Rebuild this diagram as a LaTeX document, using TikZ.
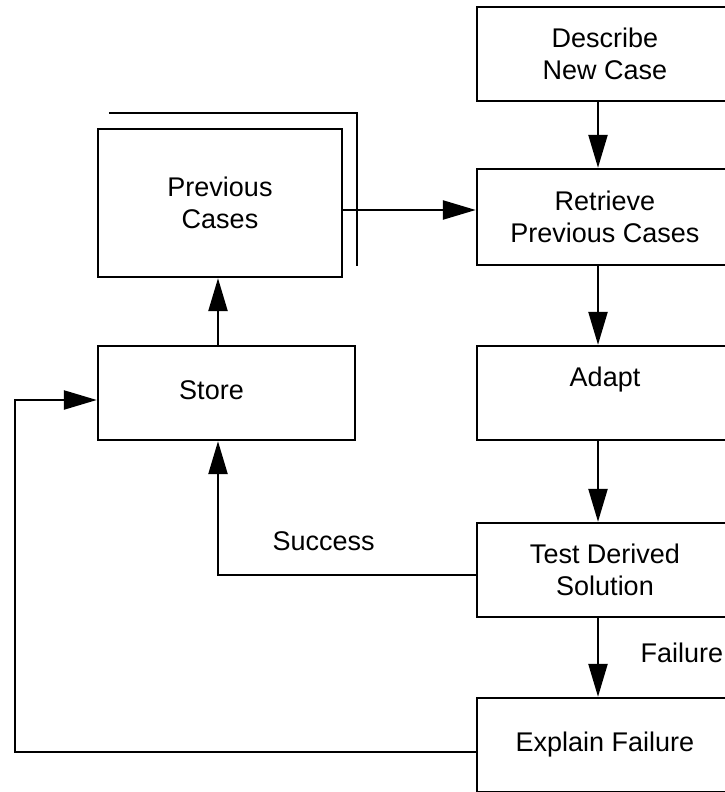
\documentclass[tikz,border=0pt]{standalone}
\usepackage{fontspec}
\setmainfont{Liberation Sans}
\usetikzlibrary{arrows.meta, positioning, calc}
\tikzset{
    >=Latex,
    cbr_step/.style={
        rectangle,
        draw=black,
        line width=2.4pt,
        inner sep=0pt,
        minimum width=256pt,
        minimum height=94pt,
        align=center,
        font=\fontsize{27}{32}\selectfont
    },
    cbr_store/.style={
        rectangle,
        draw=black,
        line width=2.4pt,
        inner sep=0pt,
        align=center,
        font=\fontsize{27}{32}\selectfont
    },
    cbr_arrow/.style={
        -{Triangle[length=33pt, width=19pt]},
        line width=2.4pt
    },
    cbr_line/.style={
        line width=2.4pt
    },
    cbr_label/.style={
        font=\fontsize{27}{32}\selectfont
    }
}

\begin{document}
\begin{tikzpicture}[x=1pt, y=-1pt]
\useasboundingbox (0,0) rectangle (725,792);

% Main cycle
\node[cbr_step] (Describe) at (605,54) {Describe\\New Case};
\node[cbr_step, minimum height=96pt] (Retrieve) at (605,217) {Retrieve\\Previous Cases};
\node[cbr_step] (Adapt) at (605,393) {Adapt\\\mbox{}};
\node[cbr_step] (Test) at (605,570) {Test Derived\\Solution};
\node[cbr_step] (Explain) at (605,745) {Explain Failure};

% Case library
\node[cbr_store, minimum width=244pt, minimum height=148pt] (PrevCases) at (220,203) {Previous\\Cases};
\node[cbr_store, minimum width=257pt, minimum height=94pt,
  label={[cbr_label, xshift=-15pt, yshift=3pt]center:Store}] (Store) at (226.5,393) {};
\draw[cbr_line] ([shift={(12pt,15pt)}]PrevCases.north west) -| ([shift={(14pt,12pt)}]PrevCases.south east);

% Edges
\draw[cbr_arrow] ([xshift=-7pt]Describe.south) -- ([xshift=-7pt]Retrieve.north);
\draw[cbr_arrow] ([yshift=-7pt]PrevCases.east) -- ([yshift=7pt]Retrieve.west);
\draw[cbr_arrow] ([xshift=-7pt]Retrieve.south) -- ([xshift=-7pt]Adapt.north);
\draw[cbr_arrow] ([xshift=-7pt]Adapt.south) -- ([xshift=-7pt]Test.north);
\draw[cbr_arrow] ([xshift=-7pt]Test.south) -- ([xshift=-7pt]Explain.north)
  node[cbr_label, midway, right=38pt, yshift=5pt] (FailureLbl) {Failure};
\draw[cbr_arrow] ([yshift=-5pt]Test.west) -| ([xshift=-8.5pt]Store.south)
  node[cbr_label, pos=0.295, above=20pt] (SuccessLbl) {Success};
\draw[cbr_arrow] ([xshift=-8.5pt]Store.north) -- ([xshift=-8.5pt]Store.north |- PrevCases.south);
\draw[cbr_arrow] ([yshift=-7pt]Explain.west) -- ++(-461,0) |- ([yshift=-7pt]Store.west);

\end{tikzpicture}
\end{document}
